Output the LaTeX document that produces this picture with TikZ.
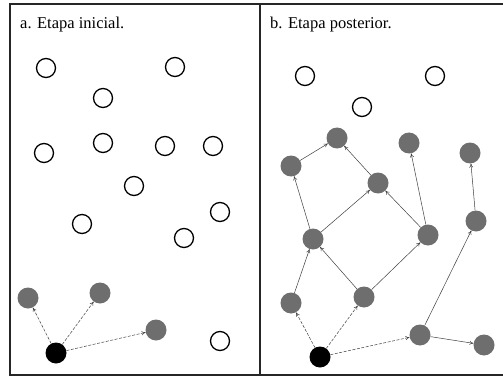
\documentclass[tikz,border=0pt]{standalone}
\usepackage{fontspec}
\setmainfont{Liberation Serif}
\usetikzlibrary{arrows.meta}
\tikzset{
  open/.style={circle,draw=black,line width=1.3pt,minimum size=19pt,inner sep=0pt},
  visited/.style={circle,fill=black!57,minimum size=21pt,inner sep=0pt},
  source/.style={circle,fill=black,minimum size=21pt,inner sep=0pt},
  probe/.style={-{To[length=4pt,width=4pt]},dashed,dash pattern=on 3pt off 1.5pt,line width=0.5pt,draw=black!75},
  link/.style={-{To[length=4pt,width=4pt]},line width=0.5pt,draw=black!75},
  frame/.style={line width=1.4pt,draw=black!85},
  title/.style={anchor=base west,font=\fontsize{16.5}{19}\selectfont,inner sep=0pt}
}
\begin{document}
\begin{tikzpicture}[x=1pt,y=-1pt]
\useasboundingbox (0,0) rectangle (503,377);
\fill[white] (0,0) rectangle (503,377);
% frame
\draw[frame] (503,4) -- (10,4) -- (10,375) -- (503,375);
\draw[frame] (260,4) -- (260,375);
\node[title] (ta) at (20,29) {a. Etapa inicial.};
\node[title] (tb) at (270,29) {b. Etapa posterior.};
% left panel
\node[open] (a1) at (46,68) {};
\node[open] (a2) at (175,67) {};
\node[open] (a3) at (103,98) {};
\node[open] (a4) at (44,153) {};
\node[open] (a5) at (103,143) {};
\node[open] (a6) at (165,146) {};
\node[open] (a7) at (213,146) {};
\node[open] (a8) at (134,186) {};
\node[open] (a9) at (82,224) {};
\node[open] (a10) at (220,212) {};
\node[open] (a11) at (184,238) {};
\node[open] (a12) at (220,341) {};
\node[visited] (g1) at (28,298) {};
\node[visited] (g2) at (100,293) {};
\node[visited] (g3) at (156,330) {};
\node[source] (s1) at (56,353) {};
\draw[probe] (s1) -- (g1);
\draw[probe] (s1) -- (g2);
\draw[probe] (s1) -- (g3);
% right panel
\node[open] (b1) at (305,76) {};
\node[open] (b2) at (435,76) {};
\node[open] (b3) at (362,107) {};
\node[visited] (r1) at (337,138) {};
\node[visited] (r2) at (291,166) {};
\node[visited] (r3) at (409,143) {};
\node[visited] (r4) at (470,153) {};
\node[visited] (r5) at (378,183) {};
\node[visited] (r6) at (313,239) {};
\node[visited] (r7) at (428,235) {};
\node[visited] (r8) at (476,221) {};
\node[visited] (r9) at (291,303) {};
\node[visited] (r10) at (364,297) {};
\node[visited] (r11) at (420,335) {};
\node[visited] (r12) at (484,345) {};
\node[source] (s2) at (320,357) {};
\draw[probe] (s2) -- (r9);
\draw[probe] (s2) -- (r10);
\draw[probe] (s2) -- (r11);
\draw[link] (r9) -- (r6);
\draw[link] (r10) -- (r6);
\draw[link] (r10) -- (r7);
\draw[link] (r6) -- (r5);
\draw[link] (r6) -- (r2);
\draw[link] (r2) -- (r1);
\draw[link] (r5) -- (r1);
\draw[link] (r7) -- (r5);
\draw[link] (r7) -- (r3);
\draw[link] (r11) -- (r8);
\draw[link] (r8) -- (r4);
\draw[link] (r11) -- (r12);
\end{tikzpicture}
\end{document}
